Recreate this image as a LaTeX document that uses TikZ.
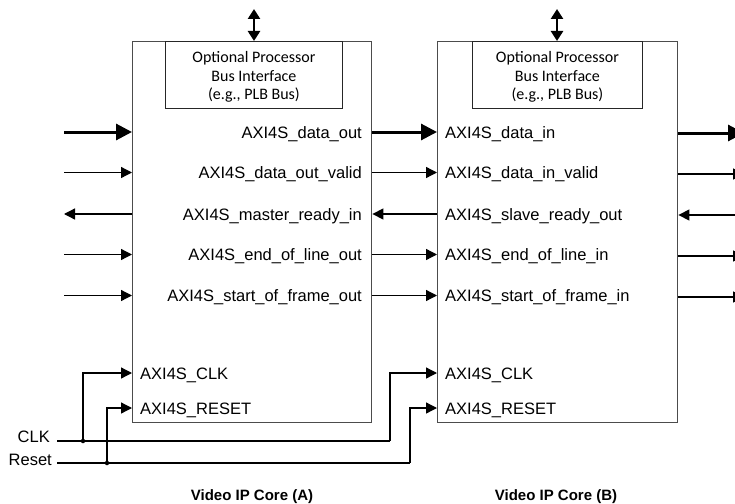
\documentclass[tikz,border=0pt]{standalone}
\usepackage{fontspec}
\setmainfont{Liberation Sans}
\newfontfamily\busfont{Carlito}
\usetikzlibrary{arrows.meta}
\begin{document}
\begin{tikzpicture}[x=1pt,y=-1pt,
  core/.style={draw=black!70, line width=1.4pt, minimum height=381pt,
    anchor=north west, inner sep=0pt},
  busif/.style={draw=black!85, line width=0.9pt, minimum height=67pt,
    anchor=north west, inner sep=0pt},
  iftext/.style={align=center, inner sep=0pt,
    font=\busfont\fontsize{16}{18.5}\selectfont},
  port/.style={inner sep=0pt, font=\fontsize{16.5}{19}\selectfont},
  title/.style={inner sep=0pt, anchor=base, font=\bfseries\fontsize{15}{18}\selectfont},
  sig/.style={line width=1.3pt, -{Triangle[length=11pt,width=11pt]}},
  busw/.style={line width=3pt, -{Triangle[length=16pt,width=16pt]}},
  host/.style={line width=2.6pt, {Triangle[length=10pt,width=12pt]}-{Triangle[length=10pt,width=12pt]}},
  wire/.style={line width=1.3pt},
  dot/.style={circle, fill=black, inner sep=0pt, minimum size=4.5pt}
]
\clip (0,0) rectangle (735,503);

% the two cores
\node[core, minimum width=239pt] (A) at (132,41) {};
\node[core, minimum width=240pt] (B) at (437,41) {};

% optional processor bus interfaces
\node[busif, minimum width=177pt] (ifA) at (165,41) {};
\node[busif, minimum width=170pt] (ifB) at (472,41) {};
\node[iftext] (tA) at ([yshift=-2pt]ifA.center) {Optional Processor\\Bus Interface\\(e.g., PLB Bus)};
\node[iftext] (tB) at ([yshift=-2pt]ifB.center) {Optional Processor\\Bus Interface\\(e.g., PLB Bus)};
\coordinate (hostA) at (254,9);
\coordinate (hostB) at (557,9);
\draw[host] (hostA) -- (hostA |- A.north);
\draw[host] (hostB) -- (hostB |- B.north);

% signal rows
\coordinate (r1) at (0,132);
\coordinate (r2) at (0,172.5);
\coordinate (r3) at (0,214);
\coordinate (r4) at (0,254.5);
\coordinate (r5) at (0,295.5);
\coordinate (r6) at (0,373);
\coordinate (r7) at (0,408);

% left free ends and right free ends
\coordinate (L1) at (64,132);
\coordinate (L2) at (64,172.5);
\coordinate (L3) at (64,214);
\coordinate (L4) at (64,254.5);
\coordinate (L5) at (64,295.5);
\coordinate (R1) at (744,133);
\coordinate (R2) at (744,174);
\coordinate (R3) at (744,215);
\coordinate (R4) at (744,256);
\coordinate (R5) at (744,297);

% inputs into core A
\draw[busw] (L1) -- (A.west |- r1);
\draw[sig] (L2) -- (A.west |- r2);
\draw[sig] (A.west |- r3) -- (L3);
\draw[sig] (L4) -- (A.west |- r4);
\draw[sig] (L5) -- (A.west |- r5);

% core A to core B
\draw[busw] (A.east |- r1) -- (B.west |- r1);
\draw[sig] (A.east |- r2) -- (B.west |- r2);
\draw[sig] (B.west |- r3) -- (A.east |- r3);
\draw[sig] (A.east |- r4) -- (B.west |- r4);
\draw[sig] (A.east |- r5) -- (B.west |- r5);

% outputs of core B
\draw[busw] (B.east |- R1) -- (R1);
\draw[sig] (B.east |- R2) -- (R2);
\draw[sig] (R3) -- (B.east |- R3);
\draw[sig] (B.east |- R4) -- (R4);
\draw[sig] (B.east |- R5) -- (R5);

% port names, core A
\node[port, anchor=base east] (pa1) at (362,138) {AXI4S\_data\_out};
\node[port, anchor=base east] (pa2) at (362,178.5) {AXI4S\_data\_out\_valid};
\node[port, anchor=base east] (pa3) at (362,220) {AXI4S\_master\_ready\_in};
\node[port, anchor=base east] (pa4) at (362,260.5) {AXI4S\_end\_of\_line\_out};
\node[port, anchor=base east] (pa5) at (362,301.5) {AXI4S\_start\_of\_frame\_out};
\node[port, anchor=base west] (pa6) at (140,379) {AXI4S\_CLK};
\node[port, anchor=base west] (pa7) at (140,414) {AXI4S\_RESET};

% port names, core B
\node[port, anchor=base west] (pb1) at (445,138) {AXI4S\_data\_in};
\node[port, anchor=base west] (pb2) at (445,178.5) {AXI4S\_data\_in\_valid};
\node[port, anchor=base west] (pb3) at (445,220) {AXI4S\_slave\_ready\_out};
\node[port, anchor=base west] (pb4) at (445,260.5) {AXI4S\_end\_of\_line\_in};
\node[port, anchor=base west] (pb5) at (445,301.5) {AXI4S\_start\_of\_frame\_in};
\node[port, anchor=base west] (pb6) at (445,379) {AXI4S\_CLK};
\node[port, anchor=base west] (pb7) at (445,414) {AXI4S\_RESET};

% clock and reset distribution
\node[port, anchor=base east] (clk) at (50,442) {CLK};
\node[port, anchor=base east] (rst) at (52,465) {Reset};
\coordinate (clkS) at (57,441);
\coordinate (rstS) at (57,463);
\coordinate (clkJ) at (83,441);
\coordinate (rstJ) at (107,463);
\coordinate (clkT) at (390,441);
\coordinate (rstT) at (410,463);
\draw[wire] (clkS) -- (clkT);
\draw[wire] (rstS) -- (rstT);
\draw[sig] (clkT) |- (B.west |- r6);
\draw[sig] (rstT) |- (B.west |- r7);
\draw[sig] (clkJ) |- (A.west |- r6);
\draw[sig] (rstJ) |- (A.west |- r7);
\node[dot] (dc) at (clkJ) {};
\node[dot] (dr) at (rstJ) {};

% captions
\node[title] (capA) at (252,500) {Video IP Core (A)};
\node[title] (capB) at (556,500) {Video IP Core (B)};
\end{tikzpicture}
\end{document}
